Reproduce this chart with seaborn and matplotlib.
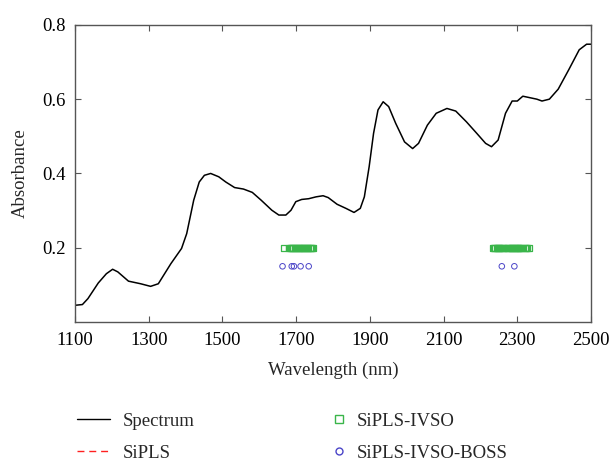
import matplotlib
matplotlib.use("Agg")
import matplotlib.pyplot as plt
from matplotlib.lines import Line2D
import seaborn as sns
import pandas as pd

# Spectrum
wavelength = [1100, 1120, 1135, 1163, 1185, 1202, 1216, 1245, 1278, 1305, 1326, 1360, 1389,
              1403, 1422, 1437, 1451, 1468, 1490, 1509, 1533, 1557, 1581, 1605, 1634, 1653,
              1672, 1686, 1699, 1715, 1734, 1754, 1773, 1787, 1811, 1835, 1857, 1874, 1885,
              1898, 1910, 1922, 1936, 1951, 1970, 1994, 2016, 2032, 2056, 2080, 2109, 2133,
              2162, 2190, 2214, 2230, 2248, 2268, 2286, 2300, 2315, 2334, 2353, 2367, 2387,
              2411, 2440, 2468, 2488, 2500]
absorbance = [0.045, 0.047, 0.063, 0.105, 0.130, 0.142, 0.135, 0.110, 0.103, 0.096, 0.103,
              0.157, 0.198, 0.238, 0.328, 0.377, 0.395, 0.400, 0.391, 0.377, 0.362, 0.358,
              0.349, 0.328, 0.301, 0.288, 0.288, 0.301, 0.324, 0.330, 0.332, 0.337, 0.340,
              0.335, 0.317, 0.306, 0.295, 0.306, 0.337, 0.418, 0.508, 0.571, 0.593, 0.580,
              0.535, 0.485, 0.467, 0.481, 0.530, 0.562, 0.575, 0.568, 0.539, 0.508, 0.481,
              0.472, 0.490, 0.562, 0.595, 0.595, 0.608, 0.604, 0.600, 0.595, 0.600, 0.627,
              0.680, 0.733, 0.748, 0.748]

# SiPLS-IVSO selected variables (plotted at 0.2)
ivso_wl = [1666, 1680, 1683, 1686, 1689, 1692, 1695, 1698, 1701, 1704, 1707, 1710, 1713,
           1716, 1719, 1722, 1725, 1728, 1731, 1734, 1737, 1740, 1743, 1746,
           2234, 2237, 2240, 2243, 2246, 2249, 2252, 2255, 2258, 2261, 2264, 2272, 2275,
           2278, 2281, 2284, 2287, 2290, 2293, 2296, 2299, 2302, 2305, 2308, 2311, 2314,
           2322, 2325, 2328, 2331]
ivso_level = 0.2

# SiPLS-IVSO-BOSS selected variables (plotted at 0.15)
boss_wl = [1663, 1688, 1694, 1712, 1734, 2258, 2292]
boss_level = 0.15

x_ticks = [1100, 1300, 1500, 1700, 1900, 2100, 2300, 2500]
y_ticks = [0.2, 0.4, 0.6, 0.8]
legend_labels = ["Spectrum", "SiPLS", "SiPLS-IVSO", "SiPLS-IVSO-BOSS"]

sns.set_theme(style="ticks")
plt.rcParams['font.family'] = ['Liberation Serif', 'DejaVu Serif']

fig = plt.figure(figsize=(6.15, 4.61), dpi=100)
ax = fig.add_axes([0.122, 0.3015, 0.839, 0.6445])

spec = pd.DataFrame({"w": wavelength, "a": absorbance})
sns.lineplot(data=spec, x="w", y="a", ax=ax, color="black", linewidth=1.1)

green = "#3ab54a"
blue = "#4b45c8"
ivso = pd.DataFrame({"w": ivso_wl, "a": [ivso_level] * len(ivso_wl)})
sns.scatterplot(data=ivso, x="w", y="a", ax=ax, marker="s", s=16,
                fc="none", ec=green, linewidth=0.9)
boss = pd.DataFrame({"w": boss_wl, "a": [boss_level] * len(boss_wl)})
sns.scatterplot(data=boss, x="w", y="a", ax=ax, marker="o", s=16,
                fc="none", ec=blue, linewidth=0.7)

fs = 13.5
ax.set_xlim(1100, 2500)
ax.set_ylim(0.0, 0.8)
ax.set_xticks(x_ticks)
ax.set_yticks(y_ticks)
ax.set_xticklabels([str(t) for t in x_ticks])
ax.set_yticklabels([f"{t:.1f}" for t in y_ticks])
ax.tick_params(direction="in", length=4, width=0.8, color="#555555",
               top=True, right=True, labelsize=fs, pad=7, labelcolor="black")
for sp in ax.spines.values():
    sp.set_color("#555555")
    sp.set_linewidth(1.0)
ax.set_xlabel("Wavelength (nm)", fontsize=fs, labelpad=9)
ax.set_ylabel("Absorbance", fontsize=fs, labelpad=9)

h1 = [Line2D([], [], color="black", linewidth=1.0),
      Line2D([], [], color="#ff2020", linewidth=1.0, linestyle=(0, (5, 3.5)))]
h2 = [Line2D([], [], color=green, marker="s", markersize=6, markerfacecolor="none",
             markeredgewidth=1.0, linestyle="none"),
      Line2D([], [], color=blue, marker="o", markersize=5, markerfacecolor="none",
             markeredgewidth=1.0, linestyle="none")]
leg1 = fig.legend(h1, legend_labels[:2], loc="center left", bbox_to_anchor=(0.125, 0.052),
                  frameon=False, fontsize=fs, handlelength=1.75, handletextpad=0.7,
                  labelspacing=0.8, borderpad=0, borderaxespad=0)
leg2 = fig.legend(h2, legend_labels[2:], loc="center left", bbox_to_anchor=(0.536, 0.052),
                  frameon=False, fontsize=fs, handlelength=1.0, handletextpad=0.46,
                  labelspacing=0.8, borderpad=0, borderaxespad=0)

fig.savefig("out.png", dpi=100)
